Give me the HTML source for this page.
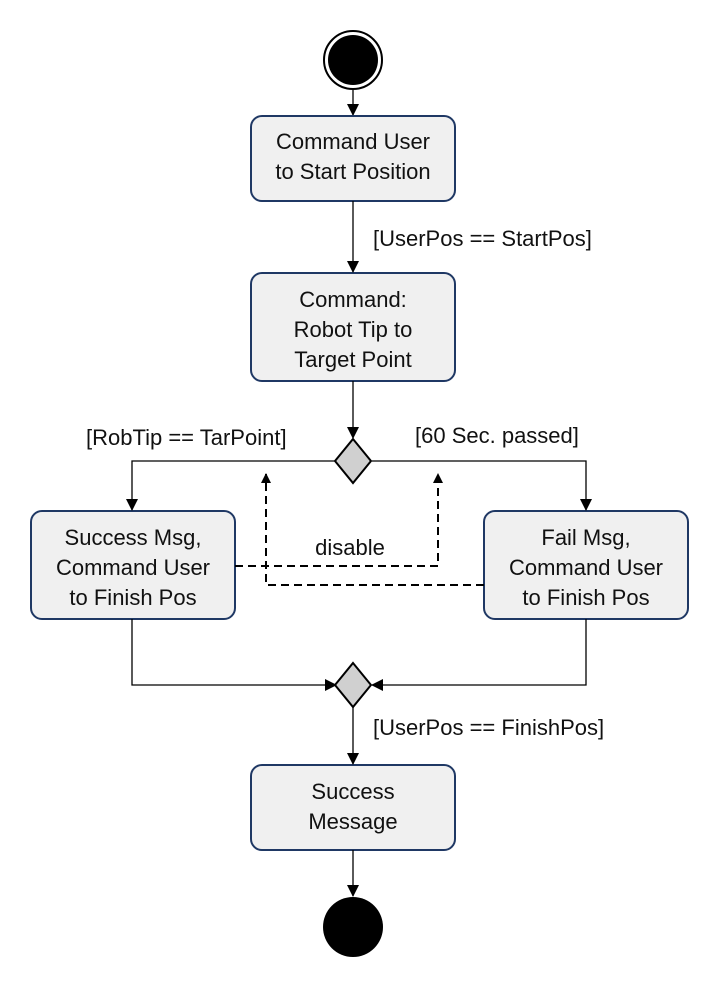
<!DOCTYPE html>
<html><head><style>
html,body{margin:0;padding:0;background:#fff;}
text{font-family:"Liberation Sans",sans-serif;font-size:22px;fill:#111;}
</style></head><body>
<svg width="728" height="982" viewBox="0 0 728 982" xmlns="http://www.w3.org/2000/svg">
<defs>
<marker id="a" markerWidth="10" markerHeight="10" refX="9" refY="5" orient="auto" markerUnits="userSpaceOnUse">
<path d="M0,0 L10,5 L0,10 z" fill="#000"/></marker>
<marker id="b" markerWidth="12" markerHeight="12" refX="11" refY="6" orient="auto" markerUnits="userSpaceOnUse">
<path d="M0,0 L12,6 L0,12 z" fill="#000"/></marker>
</defs>
<circle cx="353" cy="60" r="29" fill="#fff" stroke="#000" stroke-width="2"/>
<circle cx="353" cy="60" r="25" fill="#000"/>
<line x1="353" y1="90" x2="353" y2="115" stroke="#000" stroke-width="1.3" marker-end="url(#b)"/>
<g fill="#f0f0f0" stroke="#1f3864" stroke-width="2">
<rect x="251" y="116" width="204" height="85" rx="11"/>
<rect x="251" y="273" width="204" height="108" rx="11"/>
<rect x="31" y="511" width="204" height="108" rx="11"/>
<rect x="484" y="511" width="204" height="108" rx="11"/>
<rect x="251" y="765" width="204" height="85" rx="11"/>
</g>
<g text-anchor="middle">
<text x="353" y="149">Command User</text>
<text x="353" y="179">to Start Position</text>
<text x="353" y="307">Command:</text>
<text x="353" y="337">Robot Tip to</text>
<text x="353" y="367">Target Point</text>
<text x="133" y="545">Success Msg,</text>
<text x="133" y="575">Command User</text>
<text x="133" y="605">to Finish Pos</text>
<text x="586" y="545">Fail Msg,</text>
<text x="586" y="575">Command User</text>
<text x="586" y="605">to Finish Pos</text>
<text x="353" y="799">Success</text>
<text x="353" y="829">Message</text>
<text x="350" y="555" font-size="20">disable</text>
</g>
<text x="373" y="246">[UserPos == StartPos]</text>
<text x="86" y="445">[RobTip == TarPoint]</text>
<text x="415" y="443">[60 Sec. passed]</text>
<text x="373" y="735">[UserPos == FinishPos]</text>
<g stroke="#000" stroke-width="1.3" fill="none">
<line x1="353" y1="201" x2="353" y2="272" marker-end="url(#b)"/>
<line x1="353" y1="381" x2="353" y2="438" marker-end="url(#b)"/>
<polyline points="336,461 132,461 132,510" marker-end="url(#b)"/>
<polyline points="372,461 586,461 586,510" marker-end="url(#b)"/>
<polyline points="132,619 132,685 336,685" marker-end="url(#b)"/>
<polyline points="586,619 586,685 372,685" marker-end="url(#b)"/>
<line x1="353" y1="707" x2="353" y2="764" marker-end="url(#b)"/>
<line x1="353" y1="850" x2="353" y2="896" marker-end="url(#b)"/>
</g>
<g stroke="#000" stroke-width="2" fill="none" stroke-dasharray="8,5">
<polyline points="235,566 438,566 438,474" marker-end="url(#a)"/>
<polyline points="484,585 266,585 266,474" marker-end="url(#a)"/>
</g>
<g fill="#d0d0d0" stroke="#000" stroke-width="2">
<polygon points="353,439 371,461 353,483 335,461"/>
<polygon points="353,663 371,685 353,707 335,685"/>
</g>
<circle cx="353" cy="927" r="30" fill="#000"/>
</svg>
</body></html>
